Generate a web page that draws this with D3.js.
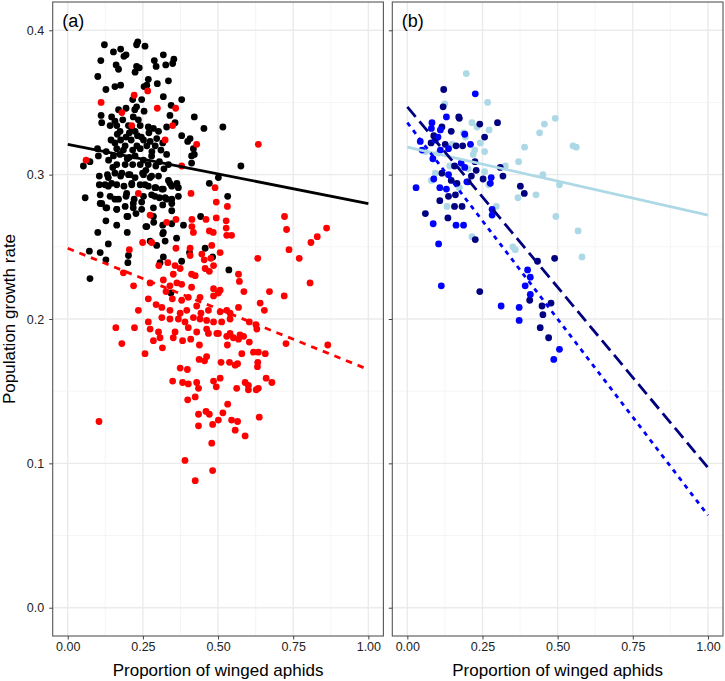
<!DOCTYPE html>
<html>
<head>
<meta charset="utf-8">
<script src="https://cdn.jsdelivr.net/npm/d3@7"></script>
<style>
  html, body { margin: 0; padding: 0; background: #fff; }
  svg { display: block; font-family: "Liberation Sans", Arial, sans-serif; }
</style>
</head>
<body>
<svg id="chart" width="725" height="681"></svg>
<script>
// ---------------- DATA ----------------
const xTicks = [0, 0.25, 0.5, 0.75, 1];
const xTickLabels = ["0.00", "0.25", "0.50", "0.75", "1.00"];
const yTicks = [0, 0.1, 0.2, 0.3, 0.4];
const yTickLabels = ["0.0", "0.1", "0.2", "0.3", "0.4"];
const panelLabels = ["(a)", "(b)"];
const xTitle = "Proportion of winged aphids";
const yTitle = "Population growth rate";

// Panel (a) — black points
const aBlack = [
[0.122,0.390],[0.152,0.385],[0.176,0.387],[0.194,0.383],[0.187,0.382],[0.233,0.392],[0.229,0.390],[0.257,0.389],
[0.110,0.379],[0.318,0.383],[0.353,0.380],[0.349,0.377],[0.326,0.376],[0.288,0.379],[0.294,0.375],[0.161,0.376],
[0.169,0.373],[0.100,0.368],[0.229,0.375],[0.224,0.371],[0.238,0.374],[0.268,0.366],[0.263,0.362],[0.335,0.365],
[0.298,0.363],[0.254,0.361],[0.127,0.359],[0.157,0.361],[0.176,0.362],[0.318,0.354],[0.246,0.352],[0.216,0.352],
[0.379,0.352],[0.223,0.345],[0.229,0.347],[0.194,0.346],[0.169,0.345],[0.111,0.341],[0.113,0.336],[0.146,0.340],
[0.157,0.337],[0.183,0.338],[0.218,0.340],[0.235,0.338],[0.254,0.344],[0.340,0.341],[0.344,0.348],[0.357,0.336],
[0.421,0.340],[0.453,0.332],[0.516,0.333],[0.141,0.334],[0.163,0.334],[0.202,0.334],[0.241,0.334],[0.268,0.333],
[0.285,0.332],[0.302,0.330],[0.329,0.333],[0.213,0.332],[0.224,0.330],[0.174,0.330],[0.379,0.327],[0.407,0.325],
[0.399,0.323],[0.418,0.318],[0.412,0.313],[0.421,0.314],[0.412,0.308],[0.144,0.324],[0.157,0.322],[0.176,0.324],
[0.194,0.326],[0.211,0.324],[0.232,0.327],[0.252,0.324],[0.274,0.323],[0.296,0.325],[0.316,0.322],[0.163,0.318],
[0.191,0.320],[0.216,0.317],[0.241,0.318],[0.263,0.320],[0.291,0.320],[0.329,0.314],[0.152,0.313],[0.174,0.314],
[0.198,0.311],[0.224,0.313],[0.252,0.310],[0.279,0.313],[0.305,0.309],[0.099,0.318],[0.102,0.313],[0.074,0.309],
[0.052,0.306],[0.128,0.316],[0.136,0.310],[0.163,0.307],[0.191,0.307],[0.216,0.307],[0.241,0.307],[0.268,0.307],
[0.293,0.306],[0.335,0.307],[0.576,0.306],[0.501,0.298],[0.105,0.299],[0.132,0.300],[0.157,0.301],[0.176,0.299],
[0.202,0.300],[0.224,0.298],[0.249,0.301],[0.274,0.298],[0.302,0.299],[0.335,0.296],[0.363,0.294],[0.471,0.294],
[0.105,0.293],[0.135,0.292],[0.163,0.293],[0.187,0.292],[0.213,0.294],[0.241,0.293],[0.268,0.292],[0.293,0.291],
[0.318,0.290],[0.346,0.292],[0.368,0.291],[0.058,0.284],[0.108,0.286],[0.141,0.285],[0.169,0.283],[0.194,0.285],
[0.221,0.283],[0.252,0.285],[0.279,0.286],[0.305,0.284],[0.329,0.283],[0.346,0.283],[0.368,0.285],[0.532,0.285],
[0.108,0.280],[0.127,0.277],[0.163,0.276],[0.191,0.278],[0.218,0.277],[0.246,0.276],[0.285,0.277],[0.316,0.279],
[0.346,0.275],[0.197,0.271],[0.227,0.273],[0.285,0.271],[0.127,0.268],[0.163,0.265],[0.198,0.260],[0.260,0.264],
[0.316,0.265],[0.346,0.266],[0.385,0.265],[0.442,0.271],[0.100,0.260],[0.135,0.252],[0.274,0.254],[0.296,0.251],
[0.316,0.259],[0.362,0.256],[0.405,0.246],[0.457,0.249],[0.482,0.243],[0.072,0.247],[0.108,0.246],[0.127,0.241],
[0.202,0.244],[0.200,0.239],[0.318,0.243],[0.307,0.239],[0.379,0.240],[0.536,0.234],[0.074,0.228],[0.343,0.218],
[0.135,0.298],[0.180,0.301],[0.207,0.300],[0.252,0.300],[0.279,0.299],[0.124,0.293],[0.146,0.294],[0.196,0.287],
[0.213,0.293],[0.257,0.293],[0.290,0.291],[0.313,0.290],[0.340,0.294],[0.157,0.283],[0.218,0.280],[0.246,0.281],
[0.290,0.285],[0.324,0.284],[0.346,0.280],[0.113,0.280],[0.130,0.277],[0.163,0.276],[0.200,0.271],[0.286,0.267],
[0.318,0.260],[0.263,0.264],[0.324,0.254],[0.165,0.328],[0.205,0.329],[0.245,0.326],[0.270,0.329],[0.185,0.317],
[0.230,0.320],[0.280,0.316],[0.310,0.317],[0.150,0.305],[0.205,0.312],[0.260,0.303],[0.320,0.304]
];

// Panel (a) — red points
const aRed = [
[0.111,0.350],[0.221,0.355],[0.266,0.358],[0.298,0.346],[0.359,0.346],[0.180,0.343],[0.213,0.334],[0.349,0.334],
[0.324,0.324],[0.429,0.321],[0.634,0.321],[0.061,0.310],[0.379,0.306],[0.235,0.287],[0.410,0.287],[0.490,0.291],
[0.494,0.281],[0.531,0.278],[0.274,0.272],[0.329,0.267],[0.360,0.269],[0.413,0.269],[0.413,0.264],[0.460,0.269],
[0.494,0.270],[0.527,0.268],[0.418,0.260],[0.471,0.261],[0.484,0.260],[0.527,0.263],[0.545,0.258],[0.529,0.258],
[0.721,0.271],[0.728,0.262],[0.861,0.263],[0.830,0.257],[0.809,0.253],[0.736,0.248],[0.770,0.242],[0.632,0.242],
[0.806,0.225],[0.720,0.216],[0.671,0.219],[0.640,0.211],[0.654,0.206],[0.249,0.253],[0.279,0.253],[0.205,0.248],
[0.360,0.249],[0.407,0.249],[0.446,0.245],[0.479,0.251],[0.507,0.246],[0.407,0.244],[0.454,0.241],[0.476,0.242],
[0.485,0.237],[0.457,0.235],[0.471,0.233],[0.333,0.239],[0.357,0.237],[0.303,0.237],[0.374,0.235],[0.351,0.231],
[0.412,0.231],[0.424,0.230],[0.568,0.231],[0.571,0.226],[0.185,0.232],[0.219,0.223],[0.274,0.225],[0.318,0.227],
[0.340,0.223],[0.363,0.225],[0.379,0.224],[0.412,0.222],[0.485,0.221],[0.507,0.220],[0.586,0.219],[0.327,0.219],
[0.348,0.214],[0.379,0.213],[0.401,0.215],[0.440,0.215],[0.485,0.216],[0.501,0.218],[0.268,0.214],[0.235,0.206],
[0.294,0.210],[0.313,0.208],[0.340,0.206],[0.374,0.204],[0.396,0.206],[0.429,0.209],[0.443,0.204],[0.468,0.206],
[0.507,0.205],[0.529,0.206],[0.540,0.204],[0.568,0.208],[0.268,0.198],[0.313,0.201],[0.340,0.200],[0.368,0.200],
[0.390,0.198],[0.418,0.201],[0.440,0.200],[0.462,0.199],[0.485,0.198],[0.512,0.198],[0.540,0.200],[0.604,0.198],
[0.626,0.196],[0.160,0.194],[0.222,0.194],[0.274,0.193],[0.302,0.191],[0.357,0.191],[0.401,0.194],[0.429,0.191],
[0.462,0.193],[0.496,0.190],[0.540,0.190],[0.573,0.189],[0.629,0.193],[0.180,0.183],[0.257,0.176],[0.315,0.180],
[0.285,0.185],[0.307,0.187],[0.351,0.187],[0.382,0.185],[0.409,0.186],[0.438,0.182],[0.468,0.190],[0.501,0.190],
[0.529,0.188],[0.531,0.182],[0.551,0.187],[0.568,0.186],[0.585,0.188],[0.604,0.184],[0.726,0.183],[0.865,0.182],
[0.579,0.176],[0.618,0.177],[0.634,0.177],[0.657,0.176],[0.632,0.170],[0.631,0.167],[0.462,0.174],[0.455,0.171],
[0.437,0.172],[0.510,0.170],[0.538,0.170],[0.557,0.168],[0.565,0.169],[0.374,0.166],[0.398,0.165],[0.349,0.157],
[0.382,0.156],[0.401,0.155],[0.429,0.156],[0.435,0.152],[0.485,0.157],[0.507,0.159],[0.494,0.153],[0.562,0.152],
[0.590,0.156],[0.601,0.154],[0.601,0.151],[0.627,0.151],[0.634,0.152],[0.660,0.159],[0.679,0.156],[0.399,0.144],
[0.424,0.146],[0.532,0.141],[0.435,0.134],[0.460,0.136],[0.471,0.134],[0.516,0.135],[0.501,0.130],[0.545,0.130],
[0.565,0.129],[0.637,0.132],[0.435,0.126],[0.482,0.127],[0.557,0.123],[0.590,0.119],[0.479,0.114],[0.390,0.102],
[0.482,0.095],[0.424,0.088],[0.104,0.129]
];

// Panel (b) — light blue points
const bLight = [
[0.196,0.370],[0.124,0.349],[0.267,0.350],[0.492,0.339],[0.456,0.335],[0.440,0.329],[0.390,0.319],[0.551,0.320],
[0.562,0.319],[0.215,0.336],[0.232,0.333],[0.272,0.331],[0.243,0.322],[0.224,0.317],[0.257,0.316],[0.187,0.329],
[0.193,0.326],[0.149,0.321],[0.326,0.306],[0.370,0.309],[0.257,0.302],[0.451,0.300],[0.506,0.293],[0.271,0.293],
[0.173,0.291],[0.428,0.286],[0.368,0.284],[0.093,0.301],[0.080,0.296],[0.132,0.278],[0.296,0.278],[0.494,0.271],
[0.568,0.261],[0.215,0.257],[0.351,0.250],[0.359,0.248],[0.581,0.243],[0.060,0.316],[0.104,0.315],[0.182,0.306],
[0.202,0.304],[0.141,0.306],[0.219,0.314]
];

// Panel (b) — navy points
const bNavy = [
[0.121,0.359],[0.119,0.347],[0.171,0.340],[0.173,0.339],[0.241,0.335],[0.300,0.336],[0.257,0.326],[0.146,0.330],
[0.115,0.333],[0.088,0.327],[0.079,0.322],[0.126,0.321],[0.162,0.320],[0.184,0.320],[0.225,0.309],[0.229,0.303],
[0.157,0.306],[0.115,0.301],[0.146,0.296],[0.213,0.299],[0.252,0.297],[0.309,0.305],[0.318,0.299],[0.165,0.294],
[0.202,0.295],[0.137,0.285],[0.160,0.286],[0.108,0.282],[0.157,0.278],[0.182,0.278],[0.060,0.273],[0.135,0.270],
[0.226,0.255],[0.376,0.292],[0.389,0.287],[0.433,0.240],[0.490,0.242],[0.241,0.219],[0.407,0.213],[0.448,0.209],
[0.478,0.211],[0.451,0.203],[0.442,0.194],[0.470,0.187]
];

// Panel (b) — blue points
const bBlue = [
[0.226,0.356],[0.130,0.340],[0.082,0.336],[0.080,0.332],[0.043,0.323],[0.049,0.317],[0.110,0.331],[0.102,0.326],
[0.093,0.324],[0.191,0.328],[0.210,0.321],[0.137,0.318],[0.085,0.311],[0.110,0.317],[0.179,0.308],[0.191,0.305],
[0.137,0.300],[0.088,0.297],[0.279,0.298],[0.276,0.294],[0.108,0.291],[0.130,0.290],[0.029,0.291],[0.198,0.295],
[0.282,0.276],[0.282,0.272],[0.162,0.265],[0.187,0.265],[0.086,0.266],[0.104,0.252],[0.113,0.223],[0.400,0.234],
[0.409,0.229],[0.392,0.223],[0.409,0.217],[0.312,0.209],[0.372,0.208],[0.372,0.199],[0.506,0.179],[0.487,0.172]
];

// Fitted lines: [x, y] end points
const aBlackFit = [[0, 0.321], [1, 0.280]];
const aRedFit   = [[0, 0.249], [1, 0.165]];
const bLightFit = [[0, 0.319], [1, 0.272]];
const bNavyFit  = [[0, 0.347], [1, 0.097]];
const bBlueFit  = [[0, 0.336], [1, 0.064]];

// ---------------- DRAW ----------------
const svg = d3.select("#chart");
const yDomain = [-0.0196, 0.4196];
const xDomain = [-0.05, 1.05];
const panelTop = 2, panelBottom = 636;

const panels = [
  { left: 52.7, right: 383.4, label: panelLabels[0], showY: true,
    points: [ {data: aBlack, color: "#000000"}, {data: aRed, color: "#FF0000"} ],
    lines: [ {data: aBlackFit, color: "#000000", dash: null},
             {data: aRedFit, color: "#FF0000", dash: "6.5,6"} ] },
  { left: 392.3, right: 723.0, label: panelLabels[1], showY: false,
    points: [ {data: bLight, color: "#ADD8E6"}, {data: bNavy, color: "#000080"}, {data: bBlue, color: "#0000FF"} ],
    lines: [ {data: bLightFit, color: "#ADD8E6", dash: null},
             {data: bNavyFit, color: "#000080", dash: "13,6"},
             {data: bBlueFit, color: "#0000FF", dash: "4.5,5"} ] }
];

const y = d3.scaleLinear().domain(yDomain).range([panelBottom, panelTop]);
const xMinor = [0.125, 0.375, 0.625, 0.875];
const yMinor = [0.05, 0.15, 0.25, 0.35];

panels.forEach((p, i) => {
  const x = d3.scaleLinear().domain(xDomain).range([p.left, p.right]);
  const g = svg.append("g");
  const clipId = "clip" + i;
  svg.append("clipPath").attr("id", clipId)
    .append("rect").attr("x", p.left).attr("y", panelTop).attr("width", p.right - p.left).attr("height", panelBottom - panelTop);

  const grid = g.append("g");
  grid.selectAll(".xmin").data(xMinor).join("line")
    .attr("x1", d => x(d)).attr("x2", d => x(d)).attr("y1", panelTop).attr("y2", panelBottom)
    .attr("stroke", "#F2F2F2").attr("stroke-width", 0.8);
  grid.selectAll(".ymin").data(yMinor).join("line")
    .attr("y1", d => y(d)).attr("y2", d => y(d)).attr("x1", p.left).attr("x2", p.right)
    .attr("stroke", "#F2F2F2").attr("stroke-width", 0.8);
  grid.selectAll(".xmaj").data(xTicks).join("line")
    .attr("x1", d => x(d)).attr("x2", d => x(d)).attr("y1", panelTop).attr("y2", panelBottom)
    .attr("stroke", "#EBEBEB").attr("stroke-width", 1.4);
  grid.selectAll(".ymaj").data(yTicks).join("line")
    .attr("y1", d => y(d)).attr("y2", d => y(d)).attr("x1", p.left).attr("x2", p.right)
    .attr("stroke", "#EBEBEB").attr("stroke-width", 1.4);

  const plot = g.append("g").attr("clip-path", `url(#${clipId})`);
  p.points.forEach(s => {
    plot.append("g").selectAll("circle").data(s.data).join("circle")
      .attr("cx", d => x(d[0])).attr("cy", d => y(d[1])).attr("r", 3.4)
      .attr("fill", s.color);
  });
  const lineGen = d3.line().x(d => x(d[0])).y(d => y(d[1]));
  p.lines.forEach(l => {
    plot.append("path").datum(l.data).attr("d", lineGen)
      .attr("fill", "none").attr("stroke", l.color).attr("stroke-width", 2.8)
      .attr("stroke-dasharray", l.dash);
  });

  // border
  g.append("rect").attr("x", p.left).attr("y", panelTop).attr("width", p.right - p.left).attr("height", panelBottom - panelTop)
    .attr("fill", "none").attr("stroke", "#555").attr("stroke-width", 1.1);

  // x axis
  const xAxis = d3.axisBottom(x).tickValues(xTicks).tickSize(3.5).tickPadding(3)
    .tickFormat((d, k) => xTickLabels[k]);
  const xa = g.append("g").attr("transform", `translate(0,${panelBottom})`).call(xAxis);
  xa.select(".domain").remove();
  xa.selectAll(".tick line").attr("stroke", "#444");
  xa.selectAll(".tick text").attr("fill", "#222").style("font-size", "12.5px")
    .style("font-family", "'Liberation Sans', Arial, sans-serif");

  // y axis
  const yAxis = d3.axisLeft(y).tickValues(yTicks).tickSize(3.5).tickPadding(5)
    .tickFormat((d, k) => p.showY ? yTickLabels[k] : "");
  const ya = g.append("g").attr("transform", `translate(${p.left},0)`).call(yAxis);
  ya.select(".domain").remove();
  ya.selectAll(".tick line").attr("stroke", "#444");
  ya.selectAll(".tick text").attr("fill", "#222").style("font-size", "12.5px")
    .style("font-family", "'Liberation Sans', Arial, sans-serif");

  // panel label
  g.append("text").attr("x", x(0) - 5.5).attr("y", 27).text(p.label)
    .attr("fill", "#000").style("font-size", "18px");

  // x title
  g.append("text").attr("x", x(0.5)).attr("y", 675.5).attr("text-anchor", "middle")
    .text(xTitle).attr("fill", "#000").style("font-size", "17px");
});

// y title
svg.append("text").attr("transform", `translate(14.5,${(panelTop + panelBottom) / 2}) rotate(-90)`)
  .attr("text-anchor", "middle").text(yTitle).attr("fill", "#000").style("font-size", "17px");
</script>
</body>
</html>
